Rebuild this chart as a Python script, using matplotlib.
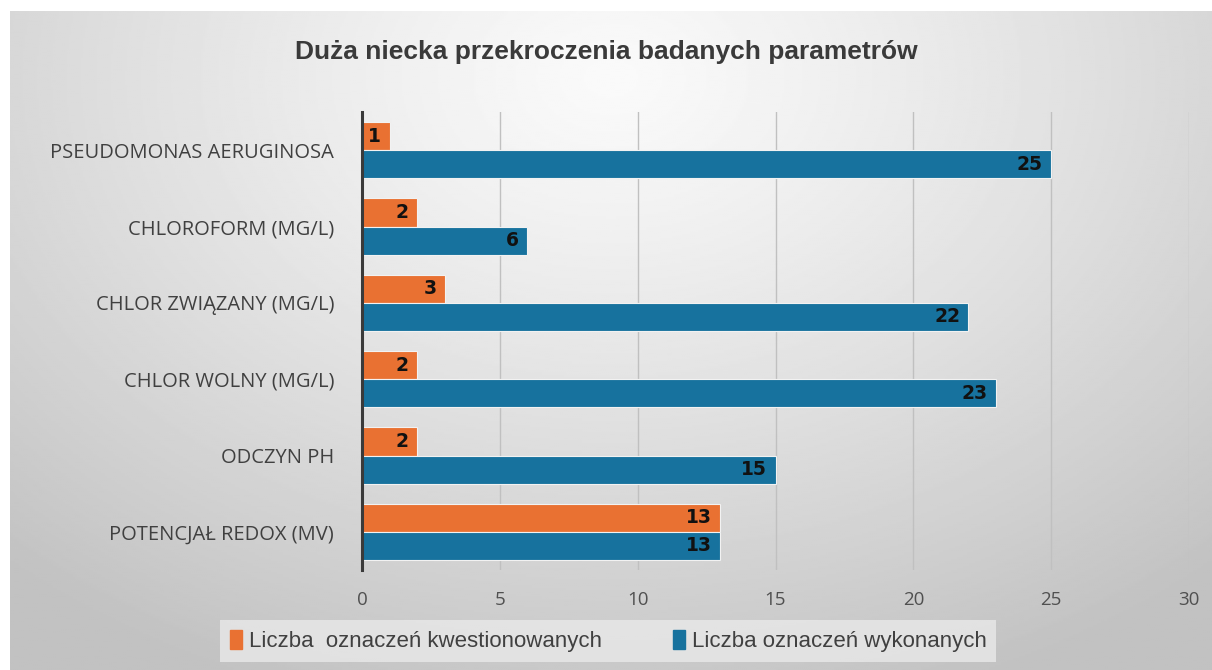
import matplotlib.pyplot as plt
import numpy as np
from matplotlib.patches import Patch

categories = ['POTENCJAŁ REDOX (MV)', 'ODCZYN PH', 'CHLOR WOLNY (MG/L)',
              'CHLOR ZWIĄZANY (MG/L)', 'CHLOROFORM (MG/L)', 'PSEUDOMONAS AERUGINOSA']
kwestionowane = [13, 2, 2, 3, 2, 1]
wykonane = [13, 15, 23, 22, 6, 25]
series_names = ['Liczba  oznaczeń kwestionowanych', 'Liczba oznaczeń wykonanych']
orange = '#E97132'
blue = '#17729E'

fig = plt.figure(figsize=(12.12, 6.70), dpi=100)

# gradient background panel
bg = fig.add_axes([10 / 1212, 0, 1 - 10 / 1212, 1 - 11 / 670], zorder=-10)
yy, xx = np.mgrid[0:1:300j, 0:1:600j]
r = np.sqrt(((xx - 0.5) / 0.75) ** 2 + ((yy - 0.1) / 1.0) ** 2)
shade = 0.98 - 0.22 * np.clip(r, 0, 1) ** 1.2
bg.imshow(shade, cmap='gray', vmin=0, vmax=1, aspect='auto', extent=(0, 1, 1, 0))
bg.axis('off')

ax = fig.add_axes([362 / 1212, 1 - 570 / 670, 827 / 1212, 458 / 670])
ax.set_facecolor('none')

y = np.arange(len(categories))
h = 0.37
b1 = ax.barh(y + h / 2, kwestionowane, height=h, color=orange, edgecolor='#f2f2f2', linewidth=0.8, zorder=3)
b2 = ax.barh(y - h / 2, wykonane, height=h, color=blue, edgecolor='#f2f2f2', linewidth=0.8, zorder=3)

for bars, vals in [(b1, kwestionowane), (b2, wykonane)]:
    for bar, v in zip(bars, vals):
        ax.text(v - 0.3, bar.get_y() + bar.get_height() / 2, str(v), ha='right', va='center',
                fontsize=13.5, fontweight='bold', color='#111111', family='DejaVu Sans', zorder=4)

ax.set_xlim(0, 30)
ax.set_ylim(-0.5, len(categories) - 0.5)
ax.set_xticks(range(0, 31, 5))
ax.set_yticks(y)
ax.set_yticklabels(categories, fontsize=14.5, color='#404040', family='Open Sans')
ax.tick_params(axis='y', length=0, pad=20)
ax.tick_params(axis='x', length=0, pad=15, labelsize=13.5, labelcolor='#505050')
for t in ax.get_xticklabels():
    t.set_family('Open Sans')
ax.grid(axis='x', color='#c0c0c0', linewidth=1.0, zorder=0)
for s in ['top', 'right', 'bottom']:
    ax.spines[s].set_visible(False)
ax.spines['left'].set_color('#3a3a3a')
ax.spines['left'].set_linewidth(2.2)
ax.spines['left'].set_zorder(5)

fig.text(0.5, 1 - 52 / 670, 'Duża niecka przekroczenia badanych parametrów', ha='center', va='center',
         fontsize=19, fontweight='bold', color='#3a3a3a', family='Liberation Sans')

handles = [Patch(color=orange), Patch(color=blue)]
leg = fig.legend(handles, series_names, loc='center', bbox_to_anchor=(608 / 1212, 1 - 641 / 670), ncol=2,
                 frameon=True, fancybox=False, handlelength=0.55, handleheight=0.9, handletextpad=0.3,
                 columnspacing=3.2, borderpad=0.45, borderaxespad=0,
                 prop={'family': 'Liberation Sans', 'size': 16})
leg.get_frame().set_facecolor('#e9e9e9')
leg.get_frame().set_edgecolor('none')
for t in leg.get_texts():
    t.set_color('#404040')

fig.savefig('out.png', dpi=100)
